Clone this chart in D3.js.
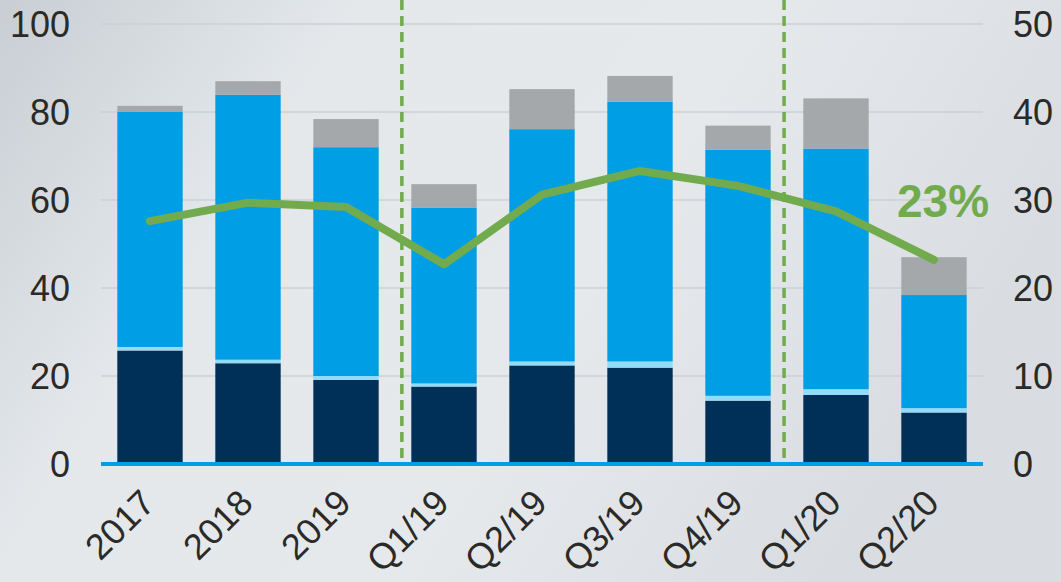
<!DOCTYPE html>
<html>
<head>
<meta charset="utf-8">
<script src="https://cdn.jsdelivr.net/npm/d3@7"></script>
<style>
  html, body { margin: 0; padding: 0; }
  body { width: 1061px; height: 582px; overflow: hidden; }
  svg { display: block; font-family: "Liberation Sans", Arial, sans-serif; }
</style>
</head>
<body>
<div id="chart"></div>
<script>
var categories = ["2017", "2018", "2019", "Q1/19", "Q2/19", "Q3/19", "Q4/19", "Q1/20", "Q2/20"];

// stacked segments, bottom to top (left axis)
var navyValues  = [25.8, 22.9, 19.1, 17.6, 22.4, 21.9, 14.4, 15.7, 11.7];
var lightValues = [0.8, 0.8, 0.9, 0.7, 0.9, 1.4, 1.1, 1.3, 1.0];
var blueValues  = [53.4, 60.2, 52.0, 40.0, 52.8, 59.0, 55.9, 54.7, 25.7];
var grayValues  = [1.4, 3.1, 6.4, 5.3, 9.1, 5.9, 5.5, 11.4, 8.6];

// green line (right axis, %)
var lineValues = [27.6, 29.7, 29.2, 22.7, 30.6, 33.3, 31.6, 28.7, 23.2];

var leftTicks = [0, 20, 40, 60, 80, 100];
var rightTicks = [0, 10, 20, 30, 40, 50];

// dashed separators, in band units (between 2019|Q1/19 and Q4/19|Q1/20)
var dividers = [3.07, 6.97];

var lastLabel = "23%";

var width = 1061, height = 582;
var plotLeft = 101, plotRight = 983, plotTop = 24, plotBottom = 464;

var svg = d3.select("#chart").append("svg")
  .attr("width", width)
  .attr("height", height);

// brushed silver backdrop
var defs = svg.append("defs");
var bg = defs.append("linearGradient").attr("id", "bg")
  .attr("x1", "0").attr("y1", "0").attr("x2", "1").attr("y2", "0.35");
bg.append("stop").attr("offset", "0").attr("stop-color", "#c9ced4");
bg.append("stop").attr("offset", "0.3").attr("stop-color", "#e4e8eb");
bg.append("stop").attr("offset", "0.65").attr("stop-color", "#e6e9ec");
bg.append("stop").attr("offset", "1").attr("stop-color", "#d9dde1");
svg.append("rect").attr("width", width).attr("height", height).attr("fill", "url(#bg)");

var x = d3.scaleBand().domain(categories).range([plotLeft, plotRight]).paddingInner(0.333).paddingOuter(0.1665);
var xIdx = d3.scaleLinear().domain([0, categories.length]).range([plotLeft, plotRight]);
var y = d3.scaleLinear().domain([0, 100]).range([plotBottom, plotTop]);
var y2 = d3.scaleLinear().domain([0, 50]).range([plotBottom, plotTop]);

// grid
svg.append("g").selectAll("line")
  .data(leftTicks.filter(d => d > 0))
  .enter().append("line")
  .attr("x1", plotLeft).attr("x2", plotRight)
  .attr("y1", d => y(d)).attr("y2", d => y(d))
  .attr("stroke", "#cdd1d5")
  .attr("stroke-width", 1.5);

// stacked bars
var rows = categories.map((c, i) => ({
  cat: c, navy: navyValues[i], light: lightValues[i], blue: blueValues[i], gray: grayValues[i]
}));
var keys = ["navy", "light", "blue", "gray"];
var colors = { navy: "#002f58", light: "#92dbfa", blue: "#009ee5", gray: "#a5a8ab" };
var stack = d3.stack().keys(keys)(rows);

svg.append("g").selectAll("g")
  .data(stack)
  .enter().append("g")
  .attr("fill", d => colors[d.key])
  .selectAll("rect")
  .data(d => d)
  .enter().append("rect")
  .attr("x", d => x(d.data.cat))
  .attr("width", x.bandwidth())
  .attr("y", d => y(d[1]))
  .attr("height", d => y(d[0]) - y(d[1]));

// baseline
svg.append("line")
  .attr("x1", plotLeft).attr("x2", plotRight)
  .attr("y1", y(0)).attr("y2", y(0))
  .attr("stroke", "#009ee5")
  .attr("stroke-width", 4);

// dashed separators
svg.append("g").selectAll("line")
  .data(dividers)
  .enter().append("line")
  .attr("x1", d => xIdx(d)).attr("x2", d => xIdx(d))
  .attr("y1", 0).attr("y2", y(0) - 2)
  .attr("stroke", "#72ab4e")
  .attr("stroke-width", 3.5)
  .attr("stroke-dasharray", "10,6");

// green line
var line = d3.line()
  .x((d, i) => x(categories[i]) + x.bandwidth() / 2)
  .y(d => y2(d));
svg.append("path")
  .datum(lineValues)
  .attr("d", line)
  .attr("fill", "none")
  .attr("stroke", "#72ab4e")
  .attr("stroke-width", 8)
  .attr("stroke-linecap", "round")
  .attr("stroke-linejoin", "round");

svg.append("text")
  .attr("x", 897)
  .attr("y", 217)
  .attr("fill", "#72ab4e")
  .attr("font-size", 46)
  .attr("font-weight", "bold")
  .text(lastLabel);

// left axis labels
svg.append("g").selectAll("text")
  .data(leftTicks)
  .enter().append("text")
  .attr("x", 70)
  .attr("y", d => y(d))
  .attr("dy", "0.36em")
  .attr("text-anchor", "end")
  .attr("font-size", 36)
  .attr("fill", "#2a2a28")
  .text(d => d);

// right axis labels
svg.append("g").selectAll("text")
  .data(rightTicks)
  .enter().append("text")
  .attr("x", 1013)
  .attr("y", d => y2(d))
  .attr("dy", "0.36em")
  .attr("text-anchor", "start")
  .attr("font-size", 36)
  .attr("fill", "#2a2a28")
  .text(d => d);

// category labels
svg.append("g").selectAll("text")
  .data(categories)
  .enter().append("text")
  .attr("transform", d => "translate(" + (x(d) + x.bandwidth() / 2 + 7) + ",505) rotate(-45)")
  .attr("text-anchor", "end")
  .attr("font-size", 36)
  .attr("fill", "#2a2a28")
  .text(d => d);
</script>
</body>
</html>
